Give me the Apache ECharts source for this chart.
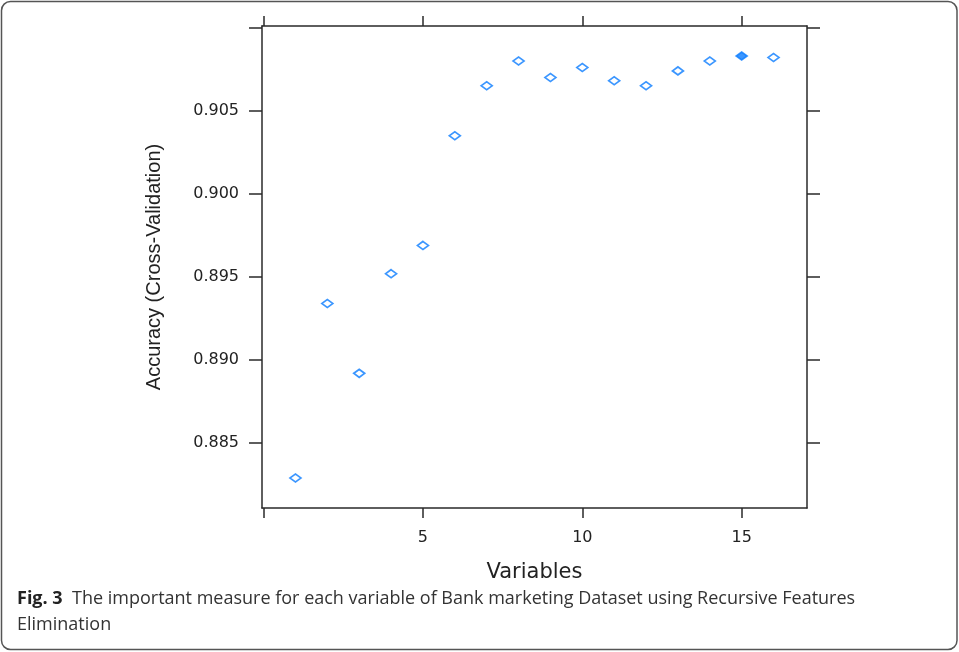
<!DOCTYPE html>
<html>
<head>
<meta charset="utf-8">
<script src="https://cdn.jsdelivr.net/npm/echarts@6/dist/echarts.min.js"></script>
<style>
html,body{margin:0;padding:0;background:#fff;}
#chart{width:959px;height:652px;}
</style>
</head>
<body>
<div id="chart"></div>
<script>
// ---- data ----
var variables = [1, 2, 3, 4, 5, 6, 7, 8, 9, 10, 11, 12, 13, 14, 15, 16];
var accuracy = [0.8829, 0.8934, 0.8892, 0.8952, 0.8969, 0.9035, 0.9065, 0.9080, 0.9070, 0.9076, 0.9068, 0.9065, 0.9074, 0.9080, 0.9083, 0.9082];
var xTicks = [0, 5, 10, 15];
var xTickLabels = [5, 10, 15];
var yTicks = [0.885, 0.890, 0.895, 0.900, 0.905, 0.910];
var yTickLabels = [0.885, 0.890, 0.895, 0.900, 0.905];
var xTitle = 'Variables';
var yTitle = 'Accuracy (Cross-Validation)';
var captionBold = 'Fig. 3';
var captionText = 'The important measure for each variable of Bank marketing Dataset using Recursive Features';
var captionLine2 = 'Elimination';

// selected (best) subset size = the maximum accuracy
var bestIdx = 0;
for (var i = 1; i < accuracy.length; i++) if (accuracy[i] > accuracy[bestIdx]) bestIdx = i;

var blue = '#0a7cff';
var hollow = [], filled = [];
for (var j = 0; j < variables.length; j++) {
  if (j === bestIdx) filled.push([variables[j], accuracy[j]]);
  else hollow.push([variables[j], accuracy[j]]);
}

var xMin = -0.05, xMax = 17.05, yMin = 0.8811, yMax = 0.9101;
var lineStyle = {color: '#2a2a2a', width: 1.5};
var tickFont = "'DejaVu Sans', sans-serif";
var capFont = "'Open Sans', Lato, sans-serif";

var chart = echarts.init(document.getElementById('chart'), null, {renderer: 'canvas'});
chart.setOption({
  backgroundColor: '#fff',
  animation: false,
  title: {
    text: '{b|' + captionBold + '}  ' + captionText + '\n' + captionLine2,
    left: 17,
    top: 586,
    padding: 0,
    textStyle: {
      fontFamily: capFont,
      fontSize: 18,
      fontWeight: 'normal',
      color: '#333',
      lineHeight: 26,
      rich: {
        b: {fontFamily: capFont, fontSize: 18, fontWeight: 'bold', color: '#222', lineHeight: 26}
      }
    }
  },
  grid: {left: 262, top: 26, width: 545, height: 482, containLabel: false, outerBoundsMode: 'none'},
  xAxis: [{
    type: 'value', position: 'bottom', min: xMin, max: xMax,
    axisLine: {show: true, onZero: false, lineStyle: lineStyle},
    axisTick: {show: true, customValues: xTicks, length: 10, lineStyle: lineStyle},
    axisLabel: {show: true, customValues: xTickLabels, margin: 22, fontFamily: tickFont, fontSize: 16, color: '#222'},
    splitLine: {show: false},
    name: xTitle, nameLocation: 'middle', nameGap: 54,
    nameTextStyle: {fontFamily: tickFont, fontSize: 21, color: '#222'}
  }, {
    type: 'value', position: 'top', min: xMin, max: xMax,
    axisLine: {show: true, onZero: false, lineStyle: lineStyle},
    axisTick: {show: true, customValues: xTicks, length: 10, lineStyle: lineStyle},
    axisLabel: {show: false},
    splitLine: {show: false}
  }],
  yAxis: [{
    type: 'value', position: 'left', min: yMin, max: yMax,
    axisLine: {show: true, onZero: false, lineStyle: lineStyle},
    axisTick: {show: true, customValues: yTicks, length: 13, lineStyle: lineStyle},
    axisLabel: {show: true, customValues: yTickLabels, margin: 23, fontFamily: tickFont, fontSize: 16, color: '#222',
      formatter: function (v) { return v.toFixed(3); }},
    splitLine: {show: false},
    name: yTitle, nameLocation: 'middle', nameGap: 98, nameRotate: 90,
    nameTextStyle: {fontFamily: "'Liberation Sans', Arial, sans-serif", fontSize: 20, color: '#222'}
  }, {
    type: 'value', position: 'right', min: yMin, max: yMax,
    axisLine: {show: true, onZero: false, lineStyle: lineStyle},
    axisTick: {show: true, customValues: yTicks, length: 13, lineStyle: lineStyle},
    axisLabel: {show: false},
    splitLine: {show: false}
  }],
  graphic: [{
    type: 'rect', silent: true,
    shape: {x: 1.5, y: 1.5, width: 955.5, height: 648, r: 9},
    style: {fill: 'none', stroke: '#555', lineWidth: 1.5}
  }],
  series: [{
    type: 'scatter', xAxisIndex: 0, yAxisIndex: 0,
    data: hollow, symbol: 'diamond', symbolSize: [11, 8],
    itemStyle: {color: '#fff', borderColor: blue, borderWidth: 1.7}
  }, {
    type: 'scatter', xAxisIndex: 0, yAxisIndex: 0,
    data: filled, symbol: 'diamond', symbolSize: [11, 8],
    itemStyle: {color: blue, borderColor: blue, borderWidth: 1.7}
  }]
});
</script>
</body>
</html>
